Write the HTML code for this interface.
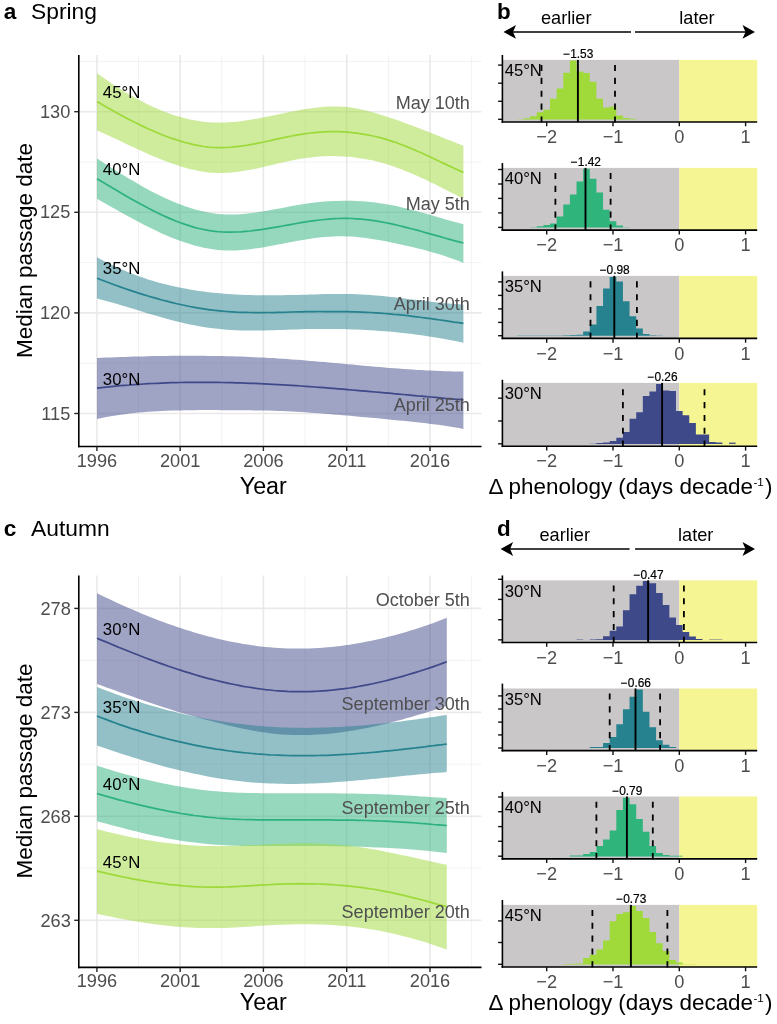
<!DOCTYPE html>
<html><head><meta charset="utf-8"><title>Figure</title>
<style>
html,body{margin:0;padding:0;background:#fff;}
body{width:777px;height:1024px;overflow:hidden;}
svg{display:block;will-change:transform;font-family:"Liberation Sans", sans-serif;}
</style></head><body>
<svg width="777" height="1024" viewBox="0 0 777 1024">
<rect width="777" height="1024" fill="#fff"/>
<line x1="138.5" x2="138.5" y1="54.9" y2="446.5" stroke="#EFEFEF" stroke-width="0.8"/>
<line x1="221.8" x2="221.8" y1="54.9" y2="446.5" stroke="#EFEFEF" stroke-width="0.8"/>
<line x1="305.0" x2="305.0" y1="54.9" y2="446.5" stroke="#EFEFEF" stroke-width="0.8"/>
<line x1="388.4" x2="388.4" y1="54.9" y2="446.5" stroke="#EFEFEF" stroke-width="0.8"/>
<line x1="471.6" x2="471.6" y1="54.9" y2="446.5" stroke="#EFEFEF" stroke-width="0.8"/>
<line x1="78.8" x2="481.5" y1="61.4" y2="61.4" stroke="#EFEFEF" stroke-width="0.8"/>
<line x1="78.8" x2="481.5" y1="162" y2="162" stroke="#EFEFEF" stroke-width="0.8"/>
<line x1="78.8" x2="481.5" y1="262.6" y2="262.6" stroke="#EFEFEF" stroke-width="0.8"/>
<line x1="78.8" x2="481.5" y1="363.2" y2="363.2" stroke="#EFEFEF" stroke-width="0.8"/>
<line x1="96.9" x2="96.9" y1="54.9" y2="446.5" stroke="#E9E9E9" stroke-width="1.6"/>
<line x1="180.15" x2="180.15" y1="54.9" y2="446.5" stroke="#E9E9E9" stroke-width="1.6"/>
<line x1="263.4" x2="263.4" y1="54.9" y2="446.5" stroke="#E9E9E9" stroke-width="1.6"/>
<line x1="346.7" x2="346.7" y1="54.9" y2="446.5" stroke="#E9E9E9" stroke-width="1.6"/>
<line x1="430.0" x2="430.0" y1="54.9" y2="446.5" stroke="#E9E9E9" stroke-width="1.6"/>
<line x1="78.8" x2="481.5" y1="111.7" y2="111.7" stroke="#E9E9E9" stroke-width="1.6"/>
<line x1="78.8" x2="481.5" y1="212.3" y2="212.3" stroke="#E9E9E9" stroke-width="1.6"/>
<line x1="78.8" x2="481.5" y1="312.9" y2="312.9" stroke="#E9E9E9" stroke-width="1.6"/>
<line x1="78.8" x2="481.5" y1="413.5" y2="413.5" stroke="#E9E9E9" stroke-width="1.6"/>
<path d="M97.0,358.0 L101.6,357.8 L106.3,357.6 L110.9,357.4 L115.6,357.3 L120.2,357.1 L124.8,356.9 L129.5,356.8 L134.1,356.6 L138.7,356.5 L143.4,356.4 L148.0,356.2 L152.7,356.1 L157.3,356.0 L161.9,356.0 L166.6,355.9 L171.2,355.8 L175.8,355.8 L180.5,355.8 L185.1,355.8 L189.8,355.8 L194.4,355.8 L199.0,355.8 L203.7,355.8 L208.3,355.9 L212.9,355.9 L217.6,356.0 L222.2,356.1 L226.9,356.2 L231.5,356.3 L236.1,356.5 L240.8,356.6 L245.4,356.8 L250.1,357.0 L254.7,357.2 L259.3,357.4 L264.0,357.6 L268.6,357.9 L273.2,358.1 L277.9,358.4 L282.5,358.7 L287.2,359.0 L291.8,359.4 L296.4,359.7 L301.1,360.1 L305.7,360.5 L310.3,360.9 L315.0,361.3 L319.6,361.7 L324.3,362.1 L328.9,362.5 L333.5,362.9 L338.2,363.3 L342.8,363.8 L347.5,364.2 L352.1,364.6 L356.7,365.0 L361.4,365.5 L366.0,365.9 L370.6,366.3 L375.3,366.7 L379.9,367.1 L384.6,367.5 L389.2,367.9 L393.8,368.2 L398.5,368.6 L403.1,368.9 L407.7,369.3 L412.4,369.6 L417.0,369.9 L421.7,370.1 L426.3,370.4 L430.9,370.6 L435.6,370.8 L440.2,371.0 L444.8,371.2 L449.5,371.3 L454.1,371.4 L458.8,371.5 L463.4,371.5 L463.4,428.9 L458.8,428.1 L454.1,427.3 L449.5,426.5 L444.8,425.8 L440.2,425.1 L435.6,424.5 L430.9,423.9 L426.3,423.3 L421.7,422.8 L417.0,422.3 L412.4,421.8 L407.7,421.3 L403.1,420.8 L398.5,420.4 L393.8,419.9 L389.2,419.5 L384.6,419.0 L379.9,418.6 L375.3,418.1 L370.6,417.7 L366.0,417.3 L361.4,416.9 L356.7,416.4 L352.1,416.0 L347.5,415.6 L342.8,415.2 L338.2,414.8 L333.5,414.4 L328.9,414.0 L324.3,413.7 L319.6,413.3 L315.0,413.0 L310.3,412.7 L305.7,412.3 L301.1,412.1 L296.4,411.8 L291.8,411.5 L287.2,411.3 L282.5,411.1 L277.9,410.9 L273.2,410.8 L268.6,410.6 L264.0,410.5 L259.3,410.4 L254.7,410.4 L250.1,410.3 L245.4,410.3 L240.8,410.2 L236.1,410.2 L231.5,410.2 L226.9,410.2 L222.2,410.2 L217.6,410.1 L212.9,410.1 L208.3,410.1 L203.7,410.1 L199.0,410.1 L194.4,410.2 L189.8,410.2 L185.1,410.3 L180.5,410.4 L175.8,410.5 L171.2,410.6 L166.6,410.8 L161.9,411.0 L157.3,411.2 L152.7,411.5 L148.0,411.8 L143.4,412.2 L138.7,412.6 L134.1,413.1 L129.5,413.6 L124.8,414.2 L120.2,414.8 L115.6,415.5 L110.9,416.3 L106.3,417.1 L101.6,418.0 L97.0,419.0 Z" fill="#3F4889" fill-opacity="0.5"/>
<path d="M97.0,257.3 L101.6,259.8 L106.3,262.2 L110.9,264.5 L115.6,266.7 L120.2,268.8 L124.8,270.8 L129.5,272.7 L134.1,274.5 L138.7,276.2 L143.4,277.8 L148.0,279.4 L152.7,280.8 L157.3,282.2 L161.9,283.4 L166.6,284.6 L171.2,285.7 L175.8,286.8 L180.5,287.8 L185.1,288.6 L189.8,289.5 L194.4,290.2 L199.0,290.9 L203.7,291.6 L208.3,292.2 L212.9,292.7 L217.6,293.1 L222.2,293.6 L226.9,293.9 L231.5,294.2 L236.1,294.5 L240.8,294.7 L245.4,294.9 L250.1,295.1 L254.7,295.2 L259.3,295.3 L264.0,295.3 L268.6,295.3 L273.2,295.3 L277.9,295.3 L282.5,295.2 L287.2,295.1 L291.8,295.0 L296.4,294.9 L301.1,294.8 L305.7,294.7 L310.3,294.5 L315.0,294.4 L319.6,294.2 L324.3,294.1 L328.9,294.0 L333.5,293.9 L338.2,293.9 L342.8,293.9 L347.5,294.0 L352.1,294.1 L356.7,294.3 L361.4,294.5 L366.0,294.7 L370.6,295.1 L375.3,295.4 L379.9,295.8 L384.6,296.3 L389.2,296.7 L393.8,297.2 L398.5,297.8 L403.1,298.3 L407.7,298.9 L412.4,299.4 L417.0,300.0 L421.7,300.6 L426.3,301.1 L430.9,301.7 L435.6,302.2 L440.2,302.7 L444.8,303.2 L449.5,303.6 L454.1,304.0 L458.8,304.3 L463.4,304.6 L463.4,342.7 L458.8,341.8 L454.1,340.8 L449.5,339.9 L444.8,339.1 L440.2,338.3 L435.6,337.5 L430.9,336.7 L426.3,336.0 L421.7,335.3 L417.0,334.7 L412.4,334.1 L407.7,333.5 L403.1,333.0 L398.5,332.5 L393.8,332.1 L389.2,331.6 L384.6,331.2 L379.9,330.9 L375.3,330.5 L370.6,330.2 L366.0,330.0 L361.4,329.7 L356.7,329.5 L352.1,329.4 L347.5,329.2 L342.8,329.1 L338.2,329.0 L333.5,328.9 L328.9,328.9 L324.3,328.9 L319.6,328.9 L315.0,329.0 L310.3,329.0 L305.7,329.1 L301.1,329.2 L296.4,329.4 L291.8,329.5 L287.2,329.7 L282.5,329.9 L277.9,330.0 L273.2,330.2 L268.6,330.3 L264.0,330.4 L259.3,330.5 L254.7,330.5 L250.1,330.5 L245.4,330.5 L240.8,330.4 L236.1,330.2 L231.5,330.0 L226.9,329.7 L222.2,329.3 L217.6,328.8 L212.9,328.3 L208.3,327.7 L203.7,327.0 L199.0,326.2 L194.4,325.3 L189.8,324.4 L185.1,323.4 L180.5,322.3 L175.8,321.2 L171.2,320.0 L166.6,318.7 L161.9,317.4 L157.3,316.1 L152.7,314.7 L148.0,313.4 L143.4,311.9 L138.7,310.5 L134.1,309.1 L129.5,307.7 L124.8,306.3 L120.2,304.9 L115.6,303.5 L110.9,302.2 L106.3,300.9 L101.6,299.7 L97.0,298.5 Z" fill="#26828E" fill-opacity="0.5"/>
<path d="M97.0,158.6 L101.6,161.6 L106.3,164.5 L110.9,167.5 L115.6,170.4 L120.2,173.3 L124.8,176.1 L129.5,178.9 L134.1,181.6 L138.7,184.3 L143.4,186.9 L148.0,189.5 L152.7,191.9 L157.3,194.3 L161.9,196.5 L166.6,198.7 L171.2,200.8 L175.8,202.7 L180.5,204.5 L185.1,206.2 L189.8,207.8 L194.4,209.2 L199.0,210.5 L203.7,211.6 L208.3,212.5 L212.9,213.3 L217.6,213.9 L222.2,214.3 L226.9,214.5 L231.5,214.6 L236.1,214.5 L240.8,214.2 L245.4,213.8 L250.1,213.3 L254.7,212.7 L259.3,212.0 L264.0,211.3 L268.6,210.5 L273.2,209.6 L277.9,208.7 L282.5,207.9 L287.2,207.0 L291.8,206.1 L296.4,205.3 L301.1,204.5 L305.7,203.8 L310.3,203.1 L315.0,202.5 L319.6,202.0 L324.3,201.6 L328.9,201.3 L333.5,201.0 L338.2,200.9 L342.8,200.8 L347.5,200.8 L352.1,200.8 L356.7,201.0 L361.4,201.3 L366.0,201.6 L370.6,202.1 L375.3,202.6 L379.9,203.2 L384.6,203.9 L389.2,204.7 L393.8,205.6 L398.5,206.6 L403.1,207.7 L407.7,208.8 L412.4,210.0 L417.0,211.2 L421.7,212.5 L426.3,213.8 L430.9,215.1 L435.6,216.5 L440.2,217.8 L444.8,219.2 L449.5,220.5 L454.1,221.8 L458.8,223.1 L463.4,224.3 L463.4,262.9 L458.8,261.1 L454.1,259.3 L449.5,257.7 L444.8,256.1 L440.2,254.6 L435.6,253.2 L430.9,251.9 L426.3,250.6 L421.7,249.3 L417.0,248.2 L412.4,247.0 L407.7,246.0 L403.1,244.9 L398.5,243.9 L393.8,243.0 L389.2,242.0 L384.6,241.1 L379.9,240.3 L375.3,239.5 L370.6,238.7 L366.0,238.1 L361.4,237.5 L356.7,237.0 L352.1,236.6 L347.5,236.4 L342.8,236.2 L338.2,236.3 L333.5,236.4 L328.9,236.7 L324.3,237.0 L319.6,237.5 L315.0,238.0 L310.3,238.7 L305.7,239.4 L301.1,240.2 L296.4,241.0 L291.8,241.9 L287.2,242.8 L282.5,243.7 L277.9,244.6 L273.2,245.5 L268.6,246.3 L264.0,247.2 L259.3,247.9 L254.7,248.6 L250.1,249.2 L245.4,249.7 L240.8,250.1 L236.1,250.4 L231.5,250.5 L226.9,250.5 L222.2,250.3 L217.6,249.9 L212.9,249.3 L208.3,248.6 L203.7,247.7 L199.0,246.6 L194.4,245.4 L189.8,244.1 L185.1,242.6 L180.5,241.0 L175.8,239.3 L171.2,237.4 L166.6,235.5 L161.9,233.4 L157.3,231.3 L152.7,229.1 L148.0,226.8 L143.4,224.4 L138.7,222.0 L134.1,219.6 L129.5,217.0 L124.8,214.5 L120.2,211.9 L115.6,209.3 L110.9,206.7 L106.3,204.0 L101.6,201.4 L97.0,198.8 Z" fill="#2DB27D" fill-opacity="0.5"/>
<path d="M97.0,73.2 L101.6,76.6 L106.3,79.8 L110.9,83.0 L115.6,86.0 L120.2,89.0 L124.8,91.9 L129.5,94.6 L134.1,97.3 L138.7,99.8 L143.4,102.2 L148.0,104.6 L152.7,106.7 L157.3,108.8 L161.9,110.7 L166.6,112.5 L171.2,114.2 L175.8,115.7 L180.5,117.1 L185.1,118.3 L189.8,119.4 L194.4,120.3 L199.0,121.1 L203.7,121.7 L208.3,122.2 L212.9,122.5 L217.6,122.6 L222.2,122.6 L226.9,122.4 L231.5,122.1 L236.1,121.7 L240.8,121.2 L245.4,120.5 L250.1,119.8 L254.7,119.0 L259.3,118.2 L264.0,117.3 L268.6,116.3 L273.2,115.4 L277.9,114.4 L282.5,113.4 L287.2,112.5 L291.8,111.6 L296.4,110.7 L301.1,109.8 L305.7,109.1 L310.3,108.4 L315.0,107.8 L319.6,107.2 L324.3,106.8 L328.9,106.6 L333.5,106.5 L338.2,106.5 L342.8,106.7 L347.5,107.1 L352.1,107.7 L356.7,108.5 L361.4,109.4 L366.0,110.5 L370.6,111.7 L375.3,113.0 L379.9,114.4 L384.6,115.9 L389.2,117.4 L393.8,119.0 L398.5,120.6 L403.1,122.3 L407.7,124.0 L412.4,125.7 L417.0,127.4 L421.7,129.2 L426.3,131.0 L430.9,132.8 L435.6,134.7 L440.2,136.5 L444.8,138.4 L449.5,140.2 L454.1,142.1 L458.8,143.9 L463.4,145.8 L463.4,198.8 L458.8,196.4 L454.1,194.0 L449.5,191.7 L444.8,189.3 L440.2,186.9 L435.6,184.6 L430.9,182.4 L426.3,180.1 L421.7,178.0 L417.0,175.8 L412.4,173.8 L407.7,171.9 L403.1,170.0 L398.5,168.2 L393.8,166.6 L389.2,165.0 L384.6,163.6 L379.9,162.3 L375.3,161.1 L370.6,160.1 L366.0,159.2 L361.4,158.4 L356.7,157.7 L352.1,157.1 L347.5,156.7 L342.8,156.4 L338.2,156.2 L333.5,156.1 L328.9,156.1 L324.3,156.3 L319.6,156.6 L315.0,157.0 L310.3,157.5 L305.7,158.1 L301.1,158.8 L296.4,159.6 L291.8,160.6 L287.2,161.5 L282.5,162.6 L277.9,163.6 L273.2,164.7 L268.6,165.8 L264.0,166.8 L259.3,167.9 L254.7,168.9 L250.1,169.8 L245.4,170.6 L240.8,171.3 L236.1,172.0 L231.5,172.5 L226.9,172.8 L222.2,173.0 L217.6,173.0 L212.9,172.8 L208.3,172.4 L203.7,171.8 L199.0,171.0 L194.4,170.0 L189.8,168.9 L185.1,167.7 L180.5,166.3 L175.8,164.8 L171.2,163.2 L166.6,161.5 L161.9,159.7 L157.3,157.8 L152.7,155.9 L148.0,153.9 L143.4,151.8 L138.7,149.7 L134.1,147.5 L129.5,145.4 L124.8,143.2 L120.2,141.0 L115.6,138.8 L110.9,136.7 L106.3,134.5 L101.6,132.4 L97.0,130.3 Z" fill="#9ED93A" fill-opacity="0.5"/>
<path d="M97.0,388.1 L101.6,387.6 L106.3,387.1 L110.9,386.6 L115.6,386.1 L120.2,385.7 L124.8,385.3 L129.5,385.0 L134.1,384.6 L138.7,384.3 L143.4,384.0 L148.0,383.7 L152.7,383.5 L157.3,383.3 L161.9,383.1 L166.6,382.9 L171.2,382.7 L175.8,382.6 L180.5,382.5 L185.1,382.4 L189.8,382.4 L194.4,382.3 L199.0,382.3 L203.7,382.3 L208.3,382.3 L212.9,382.4 L217.6,382.4 L222.2,382.5 L226.9,382.6 L231.5,382.7 L236.1,382.8 L240.8,382.9 L245.4,383.1 L250.1,383.3 L254.7,383.4 L259.3,383.6 L264.0,383.9 L268.6,384.1 L273.2,384.3 L277.9,384.6 L282.5,384.8 L287.2,385.1 L291.8,385.4 L296.4,385.7 L301.1,386.0 L305.7,386.3 L310.3,386.7 L315.0,387.0 L319.6,387.3 L324.3,387.7 L328.9,388.1 L333.5,388.4 L338.2,388.8 L342.8,389.2 L347.5,389.6 L352.1,390.0 L356.7,390.4 L361.4,390.8 L366.0,391.2 L370.6,391.6 L375.3,392.0 L379.9,392.4 L384.6,392.8 L389.2,393.2 L393.8,393.7 L398.5,394.1 L403.1,394.5 L407.7,394.9 L412.4,395.3 L417.0,395.8 L421.7,396.2 L426.3,396.6 L430.9,397.0 L435.6,397.4 L440.2,397.8 L444.8,398.3 L449.5,398.7 L454.1,399.1 L458.8,399.4 L463.4,399.8" fill="none" stroke="#3F4889" stroke-width="1.75"/>
<path d="M97.0,278.2 L101.6,280.0 L106.3,281.8 L110.9,283.5 L115.6,285.2 L120.2,286.9 L124.8,288.5 L129.5,290.1 L134.1,291.6 L138.7,293.2 L143.4,294.6 L148.0,296.0 L152.7,297.4 L157.3,298.7 L161.9,300.0 L166.6,301.2 L171.2,302.4 L175.8,303.5 L180.5,304.5 L185.1,305.5 L189.8,306.5 L194.4,307.3 L199.0,308.1 L203.7,308.9 L208.3,309.6 L212.9,310.2 L217.6,310.7 L222.2,311.1 L226.9,311.5 L231.5,311.8 L236.1,312.1 L240.8,312.3 L245.4,312.4 L250.1,312.5 L254.7,312.6 L259.3,312.6 L264.0,312.6 L268.6,312.5 L273.2,312.5 L277.9,312.4 L282.5,312.3 L287.2,312.2 L291.8,312.0 L296.4,311.9 L301.1,311.8 L305.7,311.7 L310.3,311.6 L315.0,311.6 L319.6,311.5 L324.3,311.5 L328.9,311.5 L333.5,311.5 L338.2,311.5 L342.8,311.6 L347.5,311.7 L352.1,311.8 L356.7,311.9 L361.4,312.1 L366.0,312.3 L370.6,312.5 L375.3,312.8 L379.9,313.1 L384.6,313.5 L389.2,313.8 L393.8,314.3 L398.5,314.7 L403.1,315.2 L407.7,315.7 L412.4,316.3 L417.0,316.9 L421.7,317.5 L426.3,318.1 L430.9,318.7 L435.6,319.4 L440.2,320.0 L444.8,320.7 L449.5,321.4 L454.1,322.1 L458.8,322.7 L463.4,323.4" fill="none" stroke="#26828E" stroke-width="1.75"/>
<path d="M97.0,178.7 L101.6,181.5 L106.3,184.2 L110.9,187.0 L115.6,189.8 L120.2,192.5 L124.8,195.2 L129.5,197.9 L134.1,200.5 L138.7,203.1 L143.4,205.6 L148.0,208.1 L152.7,210.5 L157.3,212.8 L161.9,215.0 L166.6,217.1 L171.2,219.1 L175.8,221.0 L180.5,222.8 L185.1,224.4 L189.8,225.9 L194.4,227.3 L199.0,228.5 L203.7,229.5 L208.3,230.4 L212.9,231.1 L217.6,231.6 L222.2,231.9 L226.9,232.1 L231.5,232.1 L236.1,232.0 L240.8,231.8 L245.4,231.4 L250.1,231.0 L254.7,230.4 L259.3,229.8 L264.0,229.1 L268.6,228.4 L273.2,227.6 L277.9,226.8 L282.5,226.0 L287.2,225.1 L291.8,224.3 L296.4,223.5 L301.1,222.7 L305.7,221.9 L310.3,221.2 L315.0,220.6 L319.6,220.0 L324.3,219.5 L328.9,219.1 L333.5,218.7 L338.2,218.5 L342.8,218.4 L347.5,218.4 L352.1,218.5 L356.7,218.8 L361.4,219.1 L366.0,219.6 L370.6,220.2 L375.3,220.9 L379.9,221.6 L384.6,222.5 L389.2,223.4 L393.8,224.4 L398.5,225.5 L403.1,226.6 L407.7,227.8 L412.4,229.0 L417.0,230.2 L421.7,231.5 L426.3,232.8 L430.9,234.1 L435.6,235.4 L440.2,236.7 L444.8,238.0 L449.5,239.3 L454.1,240.6 L458.8,241.8 L463.4,243.0" fill="none" stroke="#2DB27D" stroke-width="1.75"/>
<path d="M97.0,101.5 L101.6,104.2 L106.3,106.9 L110.9,109.6 L115.6,112.2 L120.2,114.7 L124.8,117.2 L129.5,119.7 L134.1,122.0 L138.7,124.3 L143.4,126.6 L148.0,128.7 L152.7,130.8 L157.3,132.8 L161.9,134.7 L166.6,136.5 L171.2,138.2 L175.8,139.7 L180.5,141.2 L185.1,142.5 L189.8,143.7 L194.4,144.8 L199.0,145.7 L203.7,146.5 L208.3,147.1 L212.9,147.5 L217.6,147.7 L222.2,147.7 L226.9,147.5 L231.5,147.2 L236.1,146.7 L240.8,146.2 L245.4,145.5 L250.1,144.7 L254.7,143.8 L259.3,142.9 L264.0,142.0 L268.6,141.0 L273.2,139.9 L277.9,138.9 L282.5,137.9 L287.2,136.9 L291.8,136.0 L296.4,135.1 L301.1,134.3 L305.7,133.6 L310.3,133.0 L315.0,132.6 L319.6,132.2 L324.3,131.9 L328.9,131.7 L333.5,131.7 L338.2,131.7 L342.8,131.9 L347.5,132.2 L352.1,132.6 L356.7,133.2 L361.4,133.8 L366.0,134.6 L370.6,135.5 L375.3,136.5 L379.9,137.6 L384.6,138.9 L389.2,140.3 L393.8,141.8 L398.5,143.5 L403.1,145.2 L407.7,147.1 L412.4,149.0 L417.0,151.0 L421.7,153.0 L426.3,155.2 L430.9,157.3 L435.6,159.5 L440.2,161.7 L444.8,163.9 L449.5,166.1 L454.1,168.2 L458.8,170.4 L463.4,172.5" fill="none" stroke="#9ED93A" stroke-width="1.75"/>
<text x="102.8" y="97.5" font-size="16.8" fill="#000">45°N</text>
<text x="102.8" y="175" font-size="16.8" fill="#000">40°N</text>
<text x="102.8" y="273.7" font-size="16.8" fill="#000">35°N</text>
<text x="102.8" y="384.5" font-size="16.8" fill="#000">30°N</text>
<text x="469.9" y="109.0" text-anchor="end" font-size="18.05" fill="#4F4F4F">May 10th</text>
<text x="469.9" y="209.6" text-anchor="end" font-size="18.05" fill="#4F4F4F">May 5th</text>
<text x="469.9" y="310.2" text-anchor="end" font-size="18.05" fill="#4F4F4F">April 30th</text>
<text x="469.9" y="410.8" text-anchor="end" font-size="18.05" fill="#4F4F4F">April 25th</text>
<line x1="78.8" x2="78.8" y1="54.9" y2="447.3" stroke="#000" stroke-width="1.6"/>
<line x1="78.0" x2="481.5" y1="446.5" y2="446.5" stroke="#000" stroke-width="1.6"/>
<line x1="74.3" x2="78.8" y1="111.7" y2="111.7" stroke="#222" stroke-width="1.4"/>
<text x="70.3" y="117.7" text-anchor="end" font-size="18.2" fill="#4D4D4D">130</text>
<line x1="74.3" x2="78.8" y1="212.3" y2="212.3" stroke="#222" stroke-width="1.4"/>
<text x="70.3" y="218.3" text-anchor="end" font-size="18.2" fill="#4D4D4D">125</text>
<line x1="74.3" x2="78.8" y1="312.9" y2="312.9" stroke="#222" stroke-width="1.4"/>
<text x="70.3" y="318.9" text-anchor="end" font-size="18.2" fill="#4D4D4D">120</text>
<line x1="74.3" x2="78.8" y1="413.5" y2="413.5" stroke="#222" stroke-width="1.4"/>
<text x="70.3" y="419.5" text-anchor="end" font-size="18.2" fill="#4D4D4D">115</text>
<line x1="96.9" x2="96.9" y1="446.5" y2="451.0" stroke="#222" stroke-width="1.4"/>
<text x="96.9" y="467" text-anchor="middle" font-size="18.2" fill="#4D4D4D">1996</text>
<line x1="180.15" x2="180.15" y1="446.5" y2="451.0" stroke="#222" stroke-width="1.4"/>
<text x="180.15" y="467" text-anchor="middle" font-size="18.2" fill="#4D4D4D">2001</text>
<line x1="263.4" x2="263.4" y1="446.5" y2="451.0" stroke="#222" stroke-width="1.4"/>
<text x="263.4" y="467" text-anchor="middle" font-size="18.2" fill="#4D4D4D">2006</text>
<line x1="346.7" x2="346.7" y1="446.5" y2="451.0" stroke="#222" stroke-width="1.4"/>
<text x="346.7" y="467" text-anchor="middle" font-size="18.2" fill="#4D4D4D">2011</text>
<line x1="430.0" x2="430.0" y1="446.5" y2="451.0" stroke="#222" stroke-width="1.4"/>
<text x="430.0" y="467" text-anchor="middle" font-size="18.2" fill="#4D4D4D">2016</text>
<text x="263.3" y="494.1" text-anchor="middle" font-size="23.3" fill="#000">Year</text>
<text transform="translate(31.6,250.5) rotate(-90)" text-anchor="middle" font-size="22.5" fill="#000">Median passage date</text>
<text x="3.7" y="19.4" font-size="22.6" font-weight="bold" fill="#000">a</text>
<text x="31" y="19.4" font-size="22.8" fill="#000">Spring</text>
<line x1="138.5" x2="138.5" y1="575.4" y2="967.4" stroke="#EFEFEF" stroke-width="0.8"/>
<line x1="221.8" x2="221.8" y1="575.4" y2="967.4" stroke="#EFEFEF" stroke-width="0.8"/>
<line x1="305.0" x2="305.0" y1="575.4" y2="967.4" stroke="#EFEFEF" stroke-width="0.8"/>
<line x1="388.4" x2="388.4" y1="575.4" y2="967.4" stroke="#EFEFEF" stroke-width="0.8"/>
<line x1="471.6" x2="471.6" y1="575.4" y2="967.4" stroke="#EFEFEF" stroke-width="0.8"/>
<line x1="78.8" x2="481.5" y1="660.4" y2="660.4" stroke="#EFEFEF" stroke-width="0.8"/>
<line x1="78.8" x2="481.5" y1="764.2" y2="764.2" stroke="#EFEFEF" stroke-width="0.8"/>
<line x1="78.8" x2="481.5" y1="868.1" y2="868.1" stroke="#EFEFEF" stroke-width="0.8"/>
<line x1="96.9" x2="96.9" y1="575.4" y2="967.4" stroke="#E9E9E9" stroke-width="1.6"/>
<line x1="180.15" x2="180.15" y1="575.4" y2="967.4" stroke="#E9E9E9" stroke-width="1.6"/>
<line x1="263.4" x2="263.4" y1="575.4" y2="967.4" stroke="#E9E9E9" stroke-width="1.6"/>
<line x1="346.7" x2="346.7" y1="575.4" y2="967.4" stroke="#E9E9E9" stroke-width="1.6"/>
<line x1="430.0" x2="430.0" y1="575.4" y2="967.4" stroke="#E9E9E9" stroke-width="1.6"/>
<line x1="78.8" x2="481.5" y1="608.4" y2="608.4" stroke="#E9E9E9" stroke-width="1.6"/>
<line x1="78.8" x2="481.5" y1="712.4" y2="712.4" stroke="#E9E9E9" stroke-width="1.6"/>
<line x1="78.8" x2="481.5" y1="816.3" y2="816.3" stroke="#E9E9E9" stroke-width="1.6"/>
<line x1="78.8" x2="481.5" y1="920.3" y2="920.3" stroke="#E9E9E9" stroke-width="1.6"/>
<path d="M97.0,593.2 L101.4,595.4 L105.9,597.5 L110.3,599.6 L114.7,601.7 L119.1,603.7 L123.6,605.7 L128.0,607.7 L132.4,609.6 L136.9,611.5 L141.3,613.4 L145.7,615.2 L150.1,617.0 L154.6,618.7 L159.0,620.4 L163.4,622.1 L167.8,623.7 L172.3,625.2 L176.7,626.8 L181.1,628.3 L185.6,629.7 L190.0,631.1 L194.4,632.4 L198.8,633.7 L203.3,635.0 L207.7,636.2 L212.1,637.3 L216.6,638.4 L221.0,639.4 L225.4,640.4 L229.8,641.4 L234.3,642.3 L238.7,643.1 L243.1,643.9 L247.5,644.6 L252.0,645.3 L256.4,645.9 L260.8,646.4 L265.3,646.9 L269.7,647.3 L274.1,647.7 L278.5,648.0 L283.0,648.2 L287.4,648.4 L291.8,648.5 L296.3,648.6 L300.7,648.6 L305.1,648.5 L309.5,648.4 L314.0,648.2 L318.4,648.0 L322.8,647.7 L327.2,647.3 L331.7,646.9 L336.1,646.4 L340.5,645.9 L345.0,645.3 L349.4,644.7 L353.8,644.0 L358.2,643.3 L362.7,642.5 L367.1,641.6 L371.5,640.7 L376.0,639.7 L380.4,638.7 L384.8,637.7 L389.2,636.6 L393.7,635.4 L398.1,634.2 L402.5,633.0 L406.9,631.7 L411.4,630.3 L415.8,628.9 L420.2,627.5 L424.7,626.0 L429.1,624.4 L433.5,622.9 L437.9,621.2 L442.4,619.6 L446.8,617.8 L446.8,705.9 L442.4,707.3 L437.9,708.8 L433.5,710.2 L429.1,711.6 L424.7,712.9 L420.2,714.3 L415.8,715.6 L411.4,716.9 L406.9,718.1 L402.5,719.4 L398.1,720.6 L393.7,721.7 L389.2,722.9 L384.8,723.9 L380.4,725.0 L376.0,726.0 L371.5,727.0 L367.1,727.9 L362.7,728.8 L358.2,729.6 L353.8,730.4 L349.4,731.1 L345.0,731.7 L340.5,732.4 L336.1,732.9 L331.7,733.4 L327.2,733.9 L322.8,734.2 L318.4,734.5 L314.0,734.8 L309.5,735.0 L305.1,735.1 L300.7,735.1 L296.3,735.1 L291.8,735.0 L287.4,734.8 L283.0,734.5 L278.5,734.2 L274.1,733.7 L269.7,733.2 L265.3,732.6 L260.8,732.0 L256.4,731.3 L252.0,730.5 L247.5,729.6 L243.1,728.7 L238.7,727.8 L234.3,726.8 L229.8,725.7 L225.4,724.7 L221.0,723.6 L216.6,722.5 L212.1,721.3 L207.7,720.2 L203.3,719.0 L198.8,717.8 L194.4,716.6 L190.0,715.3 L185.6,714.1 L181.1,712.7 L176.7,711.4 L172.3,710.0 L167.8,708.6 L163.4,707.2 L159.0,705.8 L154.6,704.3 L150.1,702.8 L145.7,701.3 L141.3,699.7 L136.9,698.2 L132.4,696.6 L128.0,695.1 L123.6,693.5 L119.1,691.9 L114.7,690.3 L110.3,688.8 L105.9,687.2 L101.4,685.6 L97.0,684.0 Z" fill="#3F4889" fill-opacity="0.5"/>
<path d="M97.0,687.1 L101.4,688.8 L105.9,690.5 L110.3,692.1 L114.7,693.7 L119.1,695.3 L123.6,696.9 L128.0,698.4 L132.4,699.8 L136.9,701.3 L141.3,702.6 L145.7,704.0 L150.1,705.3 L154.6,706.6 L159.0,707.8 L163.4,709.0 L167.8,710.2 L172.3,711.3 L176.7,712.4 L181.1,713.5 L185.6,714.5 L190.0,715.5 L194.4,716.4 L198.8,717.3 L203.3,718.2 L207.7,719.0 L212.1,719.8 L216.6,720.6 L221.0,721.3 L225.4,722.0 L229.8,722.6 L234.3,723.2 L238.7,723.8 L243.1,724.3 L247.5,724.8 L252.0,725.3 L256.4,725.7 L260.8,726.1 L265.3,726.4 L269.7,726.7 L274.1,727.0 L278.5,727.2 L283.0,727.4 L287.4,727.6 L291.8,727.7 L296.3,727.8 L300.7,727.8 L305.1,727.9 L309.5,727.8 L314.0,727.8 L318.4,727.7 L322.8,727.6 L327.2,727.5 L331.7,727.3 L336.1,727.1 L340.5,726.9 L345.0,726.6 L349.4,726.3 L353.8,726.0 L358.2,725.7 L362.7,725.4 L367.1,725.0 L371.5,724.6 L376.0,724.1 L380.4,723.7 L384.8,723.2 L389.2,722.7 L393.7,722.2 L398.1,721.7 L402.5,721.2 L406.9,720.6 L411.4,720.0 L415.8,719.4 L420.2,718.8 L424.7,718.2 L429.1,717.6 L433.5,716.9 L437.9,716.2 L442.4,715.6 L446.8,714.9 L446.8,772.1 L442.4,772.4 L437.9,772.8 L433.5,773.1 L429.1,773.5 L424.7,773.9 L420.2,774.3 L415.8,774.7 L411.4,775.2 L406.9,775.6 L402.5,776.0 L398.1,776.5 L393.7,776.9 L389.2,777.4 L384.8,777.8 L380.4,778.2 L376.0,778.7 L371.5,779.1 L367.1,779.5 L362.7,779.9 L358.2,780.3 L353.8,780.7 L349.4,781.1 L345.0,781.5 L340.5,781.8 L336.1,782.1 L331.7,782.4 L327.2,782.7 L322.8,782.9 L318.4,783.2 L314.0,783.4 L309.5,783.5 L305.1,783.7 L300.7,783.8 L296.3,783.9 L291.8,783.9 L287.4,783.9 L283.0,783.8 L278.5,783.8 L274.1,783.6 L269.7,783.5 L265.3,783.3 L260.8,783.0 L256.4,782.7 L252.0,782.4 L247.5,782.0 L243.1,781.5 L238.7,781.1 L234.3,780.5 L229.8,780.0 L225.4,779.3 L221.0,778.7 L216.6,778.0 L212.1,777.2 L207.7,776.4 L203.3,775.5 L198.8,774.6 L194.4,773.7 L190.0,772.7 L185.6,771.7 L181.1,770.7 L176.7,769.6 L172.3,768.5 L167.8,767.4 L163.4,766.2 L159.0,765.0 L154.6,763.8 L150.1,762.5 L145.7,761.2 L141.3,759.9 L136.9,758.6 L132.4,757.2 L128.0,755.8 L123.6,754.4 L119.1,753.0 L114.7,751.5 L110.3,750.1 L105.9,748.6 L101.4,747.0 L97.0,745.5 Z" fill="#26828E" fill-opacity="0.5"/>
<path d="M97.0,765.7 L101.4,767.1 L105.9,768.5 L110.3,769.8 L114.7,771.2 L119.1,772.5 L123.6,773.7 L128.0,774.9 L132.4,776.1 L136.9,777.3 L141.3,778.4 L145.7,779.5 L150.1,780.5 L154.6,781.5 L159.0,782.5 L163.4,783.4 L167.8,784.3 L172.3,785.2 L176.7,786.0 L181.1,786.8 L185.6,787.5 L190.0,788.2 L194.4,788.8 L198.8,789.4 L203.3,790.0 L207.7,790.5 L212.1,790.9 L216.6,791.3 L221.0,791.7 L225.4,792.0 L229.8,792.3 L234.3,792.5 L238.7,792.7 L243.1,792.8 L247.5,793.0 L252.0,793.1 L256.4,793.1 L260.8,793.2 L265.3,793.2 L269.7,793.2 L274.1,793.2 L278.5,793.2 L283.0,793.2 L287.4,793.2 L291.8,793.2 L296.3,793.2 L300.7,793.2 L305.1,793.2 L309.5,793.2 L314.0,793.2 L318.4,793.2 L322.8,793.3 L327.2,793.3 L331.7,793.3 L336.1,793.3 L340.5,793.4 L345.0,793.4 L349.4,793.5 L353.8,793.6 L358.2,793.7 L362.7,793.8 L367.1,793.9 L371.5,794.0 L376.0,794.1 L380.4,794.3 L384.8,794.5 L389.2,794.6 L393.7,794.8 L398.1,795.1 L402.5,795.3 L406.9,795.6 L411.4,795.8 L415.8,796.1 L420.2,796.4 L424.7,796.6 L429.1,796.9 L433.5,797.2 L437.9,797.5 L442.4,797.8 L446.8,798.1 L446.8,852.9 L442.4,852.4 L437.9,851.9 L433.5,851.5 L429.1,851.0 L424.7,850.6 L420.2,850.2 L415.8,849.8 L411.4,849.5 L406.9,849.1 L402.5,848.8 L398.1,848.5 L393.7,848.3 L389.2,848.0 L384.8,847.8 L380.4,847.6 L376.0,847.4 L371.5,847.2 L367.1,847.0 L362.7,846.8 L358.2,846.7 L353.8,846.6 L349.4,846.5 L345.0,846.4 L340.5,846.3 L336.1,846.2 L331.7,846.2 L327.2,846.1 L322.8,846.1 L318.4,846.0 L314.0,846.0 L309.5,846.0 L305.1,846.0 L300.7,846.0 L296.3,846.0 L291.8,846.0 L287.4,846.0 L283.0,846.0 L278.5,846.0 L274.1,846.0 L269.7,846.1 L265.3,846.1 L260.8,846.1 L256.4,846.1 L252.0,846.0 L247.5,846.0 L243.1,845.9 L238.7,845.8 L234.3,845.7 L229.8,845.5 L225.4,845.3 L221.0,845.1 L216.6,844.8 L212.1,844.4 L207.7,844.0 L203.3,843.6 L198.8,843.1 L194.4,842.6 L190.0,842.0 L185.6,841.4 L181.1,840.7 L176.7,840.0 L172.3,839.2 L167.8,838.4 L163.4,837.5 L159.0,836.6 L154.6,835.7 L150.1,834.7 L145.7,833.7 L141.3,832.7 L136.9,831.6 L132.4,830.5 L128.0,829.4 L123.6,828.3 L119.1,827.1 L114.7,826.0 L110.3,824.8 L105.9,823.6 L101.4,822.5 L97.0,821.3 Z" fill="#2DB27D" fill-opacity="0.5"/>
<path d="M97.0,829.0 L101.4,830.2 L105.9,831.4 L110.3,832.5 L114.7,833.6 L119.1,834.6 L123.6,835.6 L128.0,836.5 L132.4,837.4 L136.9,838.3 L141.3,839.1 L145.7,839.9 L150.1,840.6 L154.6,841.3 L159.0,841.9 L163.4,842.5 L167.8,843.1 L172.3,843.6 L176.7,844.1 L181.1,844.5 L185.6,844.8 L190.0,845.2 L194.4,845.4 L198.8,845.7 L203.3,845.9 L207.7,846.0 L212.1,846.1 L216.6,846.1 L221.0,846.1 L225.4,846.1 L229.8,846.0 L234.3,845.9 L238.7,845.7 L243.1,845.5 L247.5,845.3 L252.0,845.1 L256.4,844.9 L260.8,844.7 L265.3,844.4 L269.7,844.2 L274.1,844.0 L278.5,843.8 L283.0,843.7 L287.4,843.5 L291.8,843.4 L296.3,843.3 L300.7,843.3 L305.1,843.3 L309.5,843.3 L314.0,843.4 L318.4,843.5 L322.8,843.7 L327.2,843.9 L331.7,844.2 L336.1,844.5 L340.5,844.9 L345.0,845.3 L349.4,845.8 L353.8,846.3 L358.2,846.9 L362.7,847.6 L367.1,848.3 L371.5,849.0 L376.0,849.8 L380.4,850.6 L384.8,851.5 L389.2,852.4 L393.7,853.3 L398.1,854.2 L402.5,855.2 L406.9,856.1 L411.4,857.1 L415.8,858.1 L420.2,859.1 L424.7,860.0 L429.1,861.0 L433.5,862.0 L437.9,862.9 L442.4,863.9 L446.8,864.8 L446.8,949.4 L442.4,947.9 L437.9,946.4 L433.5,944.9 L429.1,943.5 L424.7,942.1 L420.2,940.8 L415.8,939.5 L411.4,938.2 L406.9,937.0 L402.5,935.9 L398.1,934.8 L393.7,933.7 L389.2,932.7 L384.8,931.8 L380.4,930.9 L376.0,930.1 L371.5,929.4 L367.1,928.7 L362.7,928.1 L358.2,927.5 L353.8,926.9 L349.4,926.5 L345.0,926.0 L340.5,925.7 L336.1,925.3 L331.7,925.0 L327.2,924.8 L322.8,924.6 L318.4,924.4 L314.0,924.3 L309.5,924.3 L305.1,924.2 L300.7,924.2 L296.3,924.3 L291.8,924.4 L287.4,924.5 L283.0,924.7 L278.5,924.8 L274.1,925.1 L269.7,925.3 L265.3,925.6 L260.8,925.8 L256.4,926.1 L252.0,926.4 L247.5,926.7 L243.1,927.0 L238.7,927.2 L234.3,927.5 L229.8,927.7 L225.4,927.9 L221.0,928.0 L216.6,928.1 L212.1,928.1 L207.7,928.1 L203.3,928.1 L198.8,927.9 L194.4,927.8 L190.0,927.6 L185.6,927.3 L181.1,927.0 L176.7,926.7 L172.3,926.3 L167.8,925.8 L163.4,925.3 L159.0,924.8 L154.6,924.2 L150.1,923.6 L145.7,923.0 L141.3,922.3 L136.9,921.6 L132.4,920.8 L128.0,920.1 L123.6,919.2 L119.1,918.4 L114.7,917.5 L110.3,916.6 L105.9,915.7 L101.4,914.7 L97.0,913.7 Z" fill="#9ED93A" fill-opacity="0.5"/>
<path d="M97.0,638.2 L101.4,640.1 L105.9,641.9 L110.3,643.8 L114.7,645.6 L119.1,647.5 L123.6,649.3 L128.0,651.0 L132.4,652.8 L136.9,654.5 L141.3,656.3 L145.7,658.0 L150.1,659.6 L154.6,661.3 L159.0,662.9 L163.4,664.4 L167.8,666.0 L172.3,667.5 L176.7,669.0 L181.1,670.4 L185.6,671.8 L190.0,673.2 L194.4,674.5 L198.8,675.8 L203.3,677.1 L207.7,678.3 L212.1,679.4 L216.6,680.5 L221.0,681.6 L225.4,682.6 L229.8,683.6 L234.3,684.5 L238.7,685.4 L243.1,686.3 L247.5,687.0 L252.0,687.7 L256.4,688.4 L260.8,689.0 L265.3,689.6 L269.7,690.0 L274.1,690.5 L278.5,690.8 L283.0,691.1 L287.4,691.4 L291.8,691.6 L296.3,691.7 L300.7,691.7 L305.1,691.7 L309.5,691.6 L314.0,691.4 L318.4,691.2 L322.8,690.9 L327.2,690.6 L331.7,690.2 L336.1,689.7 L340.5,689.2 L345.0,688.6 L349.4,688.0 L353.8,687.3 L358.2,686.5 L362.7,685.7 L367.1,684.9 L371.5,684.0 L376.0,683.0 L380.4,682.0 L384.8,681.0 L389.2,679.9 L393.7,678.7 L398.1,677.5 L402.5,676.3 L406.9,675.0 L411.4,673.7 L415.8,672.3 L420.2,671.0 L424.7,669.5 L429.1,668.1 L433.5,666.6 L437.9,665.0 L442.4,663.4 L446.8,661.8" fill="none" stroke="#3F4889" stroke-width="1.75"/>
<path d="M97.0,716.0 L101.4,717.7 L105.9,719.4 L110.3,721.1 L114.7,722.7 L119.1,724.3 L123.6,725.8 L128.0,727.3 L132.4,728.8 L136.9,730.2 L141.3,731.6 L145.7,732.9 L150.1,734.2 L154.6,735.5 L159.0,736.7 L163.4,737.9 L167.8,739.0 L172.3,740.1 L176.7,741.2 L181.1,742.2 L185.6,743.2 L190.0,744.2 L194.4,745.1 L198.8,745.9 L203.3,746.8 L207.7,747.6 L212.1,748.3 L216.6,749.1 L221.0,749.7 L225.4,750.4 L229.8,751.0 L234.3,751.6 L238.7,752.1 L243.1,752.6 L247.5,753.0 L252.0,753.5 L256.4,753.9 L260.8,754.2 L265.3,754.5 L269.7,754.8 L274.1,755.0 L278.5,755.2 L283.0,755.4 L287.4,755.5 L291.8,755.6 L296.3,755.7 L300.7,755.7 L305.1,755.7 L309.5,755.7 L314.0,755.6 L318.4,755.5 L322.8,755.4 L327.2,755.3 L331.7,755.1 L336.1,754.9 L340.5,754.7 L345.0,754.4 L349.4,754.2 L353.8,753.9 L358.2,753.5 L362.7,753.2 L367.1,752.9 L371.5,752.5 L376.0,752.1 L380.4,751.7 L384.8,751.2 L389.2,750.8 L393.7,750.3 L398.1,749.9 L402.5,749.4 L406.9,748.9 L411.4,748.4 L415.8,747.9 L420.2,747.3 L424.7,746.8 L429.1,746.2 L433.5,745.7 L437.9,745.1 L442.4,744.6 L446.8,744.0" fill="none" stroke="#26828E" stroke-width="1.75"/>
<path d="M97.0,793.5 L101.4,794.8 L105.9,796.1 L110.3,797.3 L114.7,798.6 L119.1,799.8 L123.6,801.0 L128.0,802.1 L132.4,803.2 L136.9,804.3 L141.3,805.4 L145.7,806.4 L150.1,807.4 L154.6,808.4 L159.0,809.3 L163.4,810.2 L167.8,811.1 L172.3,811.9 L176.7,812.7 L181.1,813.5 L185.6,814.2 L190.0,814.8 L194.4,815.5 L198.8,816.0 L203.3,816.6 L207.7,817.1 L212.1,817.5 L216.6,818.0 L221.0,818.3 L225.4,818.6 L229.8,818.9 L234.3,819.1 L238.7,819.3 L243.1,819.5 L247.5,819.6 L252.0,819.7 L256.4,819.8 L260.8,819.9 L265.3,819.9 L269.7,819.9 L274.1,819.9 L278.5,819.9 L283.0,819.9 L287.4,819.9 L291.8,819.9 L296.3,819.9 L300.7,819.9 L305.1,819.9 L309.5,819.9 L314.0,819.9 L318.4,819.9 L322.8,819.9 L327.2,819.9 L331.7,819.9 L336.1,820.0 L340.5,820.0 L345.0,820.1 L349.4,820.1 L353.8,820.2 L358.2,820.3 L362.7,820.4 L367.1,820.5 L371.5,820.7 L376.0,820.8 L380.4,821.0 L384.8,821.2 L389.2,821.4 L393.7,821.6 L398.1,821.8 L402.5,822.1 L406.9,822.4 L411.4,822.7 L415.8,823.0 L420.2,823.4 L424.7,823.7 L429.1,824.1 L433.5,824.5 L437.9,824.8 L442.4,825.2 L446.8,825.6" fill="none" stroke="#2DB27D" stroke-width="1.75"/>
<path d="M97.0,871.2 L101.4,872.2 L105.9,873.2 L110.3,874.2 L114.7,875.2 L119.1,876.1 L123.6,877.0 L128.0,877.9 L132.4,878.8 L136.9,879.6 L141.3,880.4 L145.7,881.1 L150.1,881.8 L154.6,882.5 L159.0,883.1 L163.4,883.7 L167.8,884.3 L172.3,884.8 L176.7,885.2 L181.1,885.6 L185.6,886.0 L190.0,886.3 L194.4,886.6 L198.8,886.8 L203.3,887.0 L207.7,887.1 L212.1,887.1 L216.6,887.1 L221.0,887.1 L225.4,887.0 L229.8,886.8 L234.3,886.6 L238.7,886.4 L243.1,886.2 L247.5,885.9 L252.0,885.7 L256.4,885.4 L260.8,885.2 L265.3,884.9 L269.7,884.7 L274.1,884.4 L278.5,884.2 L283.0,884.1 L287.4,883.9 L291.8,883.8 L296.3,883.8 L300.7,883.7 L305.1,883.8 L309.5,883.8 L314.0,883.9 L318.4,884.0 L322.8,884.2 L327.2,884.4 L331.7,884.7 L336.1,885.0 L340.5,885.3 L345.0,885.7 L349.4,886.1 L353.8,886.6 L358.2,887.1 L362.7,887.7 L367.1,888.3 L371.5,889.0 L376.0,889.7 L380.4,890.5 L384.8,891.3 L389.2,892.2 L393.7,893.1 L398.1,894.1 L402.5,895.1 L406.9,896.2 L411.4,897.3 L415.8,898.4 L420.2,899.5 L424.7,900.7 L429.1,901.9 L433.5,903.1 L437.9,904.3 L442.4,905.5 L446.8,906.7" fill="none" stroke="#9ED93A" stroke-width="1.75"/>
<text x="102.8" y="635" font-size="16.8" fill="#000">30°N</text>
<text x="102.8" y="712.5" font-size="16.8" fill="#000">35°N</text>
<text x="102.8" y="789.5" font-size="16.8" fill="#000">40°N</text>
<text x="102.8" y="867.5" font-size="16.8" fill="#000">45°N</text>
<text x="469.9" y="605.7" text-anchor="end" font-size="18.05" fill="#4F4F4F">October 5th</text>
<text x="469.9" y="709.7" text-anchor="end" font-size="18.05" fill="#4F4F4F">September 30th</text>
<text x="469.9" y="813.7" text-anchor="end" font-size="18.05" fill="#4F4F4F">September 25th</text>
<text x="469.9" y="917.7" text-anchor="end" font-size="18.05" fill="#4F4F4F">September 20th</text>
<line x1="78.8" x2="78.8" y1="575.4" y2="968.1999999999999" stroke="#000" stroke-width="1.6"/>
<line x1="78.0" x2="481.5" y1="967.4" y2="967.4" stroke="#000" stroke-width="1.6"/>
<line x1="74.3" x2="78.8" y1="608.4" y2="608.4" stroke="#222" stroke-width="1.4"/>
<text x="70.8" y="615.1" text-anchor="end" font-size="18.2" fill="#4D4D4D">278</text>
<line x1="74.3" x2="78.8" y1="712.4" y2="712.4" stroke="#222" stroke-width="1.4"/>
<text x="70.8" y="719.1" text-anchor="end" font-size="18.2" fill="#4D4D4D">273</text>
<line x1="74.3" x2="78.8" y1="816.3" y2="816.3" stroke="#222" stroke-width="1.4"/>
<text x="70.8" y="823.0" text-anchor="end" font-size="18.2" fill="#4D4D4D">268</text>
<line x1="74.3" x2="78.8" y1="920.3" y2="920.3" stroke="#222" stroke-width="1.4"/>
<text x="70.8" y="927.0" text-anchor="end" font-size="18.2" fill="#4D4D4D">263</text>
<line x1="96.9" x2="96.9" y1="967.4" y2="971.9" stroke="#222" stroke-width="1.4"/>
<text x="96.9" y="987.4" text-anchor="middle" font-size="18.2" fill="#4D4D4D">1996</text>
<line x1="180.15" x2="180.15" y1="967.4" y2="971.9" stroke="#222" stroke-width="1.4"/>
<text x="180.15" y="987.4" text-anchor="middle" font-size="18.2" fill="#4D4D4D">2001</text>
<line x1="263.4" x2="263.4" y1="967.4" y2="971.9" stroke="#222" stroke-width="1.4"/>
<text x="263.4" y="987.4" text-anchor="middle" font-size="18.2" fill="#4D4D4D">2006</text>
<line x1="346.7" x2="346.7" y1="967.4" y2="971.9" stroke="#222" stroke-width="1.4"/>
<text x="346.7" y="987.4" text-anchor="middle" font-size="18.2" fill="#4D4D4D">2011</text>
<line x1="430.0" x2="430.0" y1="967.4" y2="971.9" stroke="#222" stroke-width="1.4"/>
<text x="430.0" y="987.4" text-anchor="middle" font-size="18.2" fill="#4D4D4D">2016</text>
<text x="263.3" y="1010.0" text-anchor="middle" font-size="23.3" fill="#000">Year</text>
<text transform="translate(31.6,771) rotate(-90)" text-anchor="middle" font-size="22.5" fill="#000">Median passage date</text>
<text x="3.7" y="536" font-size="22.6" font-weight="bold" fill="#000">c</text>
<text x="31" y="536" font-size="22.8" fill="#000">Autumn</text>
<rect x="502.4" y="59.9" width="176.89999999999998" height="62.15" fill="#C9C7C8"/>
<rect x="679.3" y="59.9" width="77.90000000000009" height="62.15" fill="#F5F593"/>
<path d="M516.87,119.5 L516.87,119.2 L523.50,119.2 L523.50,118.2 L530.12,118.2 L530.12,116.2 L536.75,116.2 L536.75,112.3 L543.38,112.3 L543.38,109.8 L550.01,109.8 L550.01,98.7 L556.64,98.7 L556.64,88.4 L563.27,88.4 L563.27,72.7 L569.90,72.7 L569.90,60.6 L576.53,60.6 L576.53,71.4 L583.16,71.4 L583.16,72.9 L589.79,72.9 L589.79,81.7 L596.42,81.7 L596.42,98.7 L603.05,98.7 L603.05,107.4 L609.68,107.4 L609.68,106.4 L616.31,106.4 L616.31,115.4 L622.94,115.4 L622.94,118.0 L629.57,118.0 L629.57,118.8 L636.20,118.8 L636.20,119.5 Z" fill="#9FDA3A"/>
<line x1="577.9" x2="577.9" y1="59.9" y2="122.05" stroke="#000" stroke-width="1.9"/>
<line x1="541.5" x2="541.5" y1="122.5" y2="59.9" stroke="#000" stroke-width="1.8" stroke-dasharray="6.1 6.75"/>
<line x1="615.0" x2="615.0" y1="122.5" y2="59.9" stroke="#000" stroke-width="1.8" stroke-dasharray="6.1 6.75"/>
<text x="578.3" y="58.1" text-anchor="middle" font-size="11.9" fill="#000" stroke="#000" stroke-width="0.2">−1.53</text>
<text x="504.7" y="76.3" font-size="16.65" fill="#000">45°N</text>
<line x1="502.4" x2="502.4" y1="54.96" y2="122.85" stroke="#000" stroke-width="1.6"/>
<line x1="501.59999999999997" x2="757.2" y1="122.05" y2="122.05" stroke="#000" stroke-width="1.6"/>
<line x1="498.1" x2="502.4" y1="65.1" y2="65.1" stroke="#111" stroke-width="1.4"/>
<line x1="498.1" x2="502.4" y1="83.2" y2="83.2" stroke="#111" stroke-width="1.4"/>
<line x1="498.1" x2="502.4" y1="101.3" y2="101.3" stroke="#111" stroke-width="1.4"/>
<line x1="498.1" x2="502.4" y1="119.3" y2="119.3" stroke="#111" stroke-width="1.4"/>
<line x1="546.7" x2="546.7" y1="122.05" y2="126.3" stroke="#111" stroke-width="1.4"/>
<text x="546.7" y="143.2" text-anchor="middle" font-size="18.2" fill="#4D4D4D">−2</text>
<line x1="613.0" x2="613.0" y1="122.05" y2="126.3" stroke="#111" stroke-width="1.4"/>
<text x="613.0" y="143.2" text-anchor="middle" font-size="18.2" fill="#4D4D4D">−1</text>
<line x1="679.3" x2="679.3" y1="122.05" y2="126.3" stroke="#111" stroke-width="1.4"/>
<text x="679.3" y="143.2" text-anchor="middle" font-size="18.2" fill="#4D4D4D">0</text>
<line x1="745.6" x2="745.6" y1="122.05" y2="126.3" stroke="#111" stroke-width="1.4"/>
<text x="745.6" y="143.2" text-anchor="middle" font-size="18.2" fill="#4D4D4D">1</text>
<rect x="502.4" y="167.9" width="176.89999999999998" height="62.19999999999999" fill="#C9C7C8"/>
<rect x="679.3" y="167.9" width="77.90000000000009" height="62.19999999999999" fill="#F5F593"/>
<path d="M530.12,227.6 L530.12,227.2 L536.75,227.2 L536.75,226.2 L543.38,226.2 L543.38,224.9 L550.01,224.9 L550.01,223.4 L556.64,223.4 L556.64,216.4 L563.27,216.4 L563.27,204.6 L569.90,204.6 L569.90,194.5 L576.53,194.5 L576.53,181.4 L583.16,181.4 L583.16,168.8 L589.79,168.8 L589.79,178.8 L596.42,178.8 L596.42,192.5 L603.05,192.5 L603.05,209.7 L609.68,209.7 L609.68,221.3 L616.31,221.3 L616.31,225.4 L622.94,225.4 L622.94,227.2 L629.57,227.2 L629.57,227.6 Z" fill="#2FB47C"/>
<line x1="585.5" x2="585.5" y1="167.9" y2="230.1" stroke="#000" stroke-width="1.9"/>
<line x1="555.4" x2="555.4" y1="230.5" y2="167.9" stroke="#000" stroke-width="1.8" stroke-dasharray="6.1 6.75"/>
<line x1="610.6" x2="610.6" y1="230.5" y2="167.9" stroke="#000" stroke-width="1.8" stroke-dasharray="6.1 6.75"/>
<text x="585.9" y="166.1" text-anchor="middle" font-size="11.9" fill="#000" stroke="#000" stroke-width="0.2">−1.42</text>
<text x="504.7" y="184.3" font-size="16.65" fill="#000">40°N</text>
<line x1="502.4" x2="502.4" y1="163.05" y2="230.9" stroke="#000" stroke-width="1.6"/>
<line x1="501.59999999999997" x2="757.2" y1="230.1" y2="230.1" stroke="#000" stroke-width="1.6"/>
<line x1="498.1" x2="502.4" y1="169.5" y2="169.5" stroke="#111" stroke-width="1.4"/>
<line x1="498.1" x2="502.4" y1="184" y2="184" stroke="#111" stroke-width="1.4"/>
<line x1="498.1" x2="502.4" y1="198.4" y2="198.4" stroke="#111" stroke-width="1.4"/>
<line x1="498.1" x2="502.4" y1="212.9" y2="212.9" stroke="#111" stroke-width="1.4"/>
<line x1="498.1" x2="502.4" y1="227.4" y2="227.4" stroke="#111" stroke-width="1.4"/>
<line x1="546.7" x2="546.7" y1="230.1" y2="234.4" stroke="#111" stroke-width="1.4"/>
<text x="546.7" y="251.2" text-anchor="middle" font-size="18.2" fill="#4D4D4D">−2</text>
<line x1="613.0" x2="613.0" y1="230.1" y2="234.4" stroke="#111" stroke-width="1.4"/>
<text x="613.0" y="251.2" text-anchor="middle" font-size="18.2" fill="#4D4D4D">−1</text>
<line x1="679.3" x2="679.3" y1="230.1" y2="234.4" stroke="#111" stroke-width="1.4"/>
<text x="679.3" y="251.2" text-anchor="middle" font-size="18.2" fill="#4D4D4D">0</text>
<line x1="745.6" x2="745.6" y1="230.1" y2="234.4" stroke="#111" stroke-width="1.4"/>
<text x="745.6" y="251.2" text-anchor="middle" font-size="18.2" fill="#4D4D4D">1</text>
<rect x="502.4" y="275.9" width="176.89999999999998" height="62.450000000000045" fill="#C9C7C8"/>
<rect x="679.3" y="275.9" width="77.90000000000009" height="62.450000000000045" fill="#F5F593"/>
<path d="M516.87,335.8 L516.87,335.6 L523.50,335.6 L523.50,335.6 L530.12,335.6 L530.12,335.6 L536.75,335.6 L536.75,335.6 L543.38,335.6 L543.38,335.6 L550.01,335.6 L550.01,335.6 L556.64,335.6 L556.64,335.5 L563.27,335.5 L563.27,335.3 L569.90,335.3 L569.90,335.0 L576.53,335.0 L576.53,334.7 L583.16,334.7 L583.16,331.4 L589.79,331.4 L589.79,324.5 L596.42,324.5 L596.42,306.0 L603.05,306.0 L603.05,288.5 L609.68,288.5 L609.68,276.9 L616.31,276.9 L616.31,281.5 L622.94,281.5 L622.94,301.3 L629.57,301.3 L629.57,316.3 L636.20,316.3 L636.20,328.4 L642.83,328.4 L642.83,334.0 L649.46,334.0 L649.46,335.2 L656.09,335.2 L656.09,335.6 L662.72,335.6 L662.72,335.8 Z" fill="#26828E"/>
<line x1="614.3" x2="614.3" y1="275.9" y2="338.35" stroke="#000" stroke-width="1.9"/>
<line x1="590.5" x2="590.5" y1="338.8" y2="275.9" stroke="#000" stroke-width="1.8" stroke-dasharray="6.1 6.75"/>
<line x1="636.9" x2="636.9" y1="338.8" y2="275.9" stroke="#000" stroke-width="1.8" stroke-dasharray="6.1 6.75"/>
<text x="614.7" y="274.1" text-anchor="middle" font-size="11.9" fill="#000" stroke="#000" stroke-width="0.2">−0.98</text>
<text x="504.7" y="292.3" font-size="16.65" fill="#000">35°N</text>
<line x1="502.4" x2="502.4" y1="271.4" y2="339.15000000000003" stroke="#000" stroke-width="1.6"/>
<line x1="501.59999999999997" x2="757.2" y1="338.35" y2="338.35" stroke="#000" stroke-width="1.6"/>
<line x1="498.1" x2="502.4" y1="281.9" y2="281.9" stroke="#111" stroke-width="1.4"/>
<line x1="498.1" x2="502.4" y1="295.4" y2="295.4" stroke="#111" stroke-width="1.4"/>
<line x1="498.1" x2="502.4" y1="308.9" y2="308.9" stroke="#111" stroke-width="1.4"/>
<line x1="498.1" x2="502.4" y1="322.4" y2="322.4" stroke="#111" stroke-width="1.4"/>
<line x1="498.1" x2="502.4" y1="335.7" y2="335.7" stroke="#111" stroke-width="1.4"/>
<line x1="546.7" x2="546.7" y1="338.35" y2="342.7" stroke="#111" stroke-width="1.4"/>
<text x="546.7" y="359.5" text-anchor="middle" font-size="18.2" fill="#4D4D4D">−2</text>
<line x1="613.0" x2="613.0" y1="338.35" y2="342.7" stroke="#111" stroke-width="1.4"/>
<text x="613.0" y="359.5" text-anchor="middle" font-size="18.2" fill="#4D4D4D">−1</text>
<line x1="679.3" x2="679.3" y1="338.35" y2="342.7" stroke="#111" stroke-width="1.4"/>
<text x="679.3" y="359.5" text-anchor="middle" font-size="18.2" fill="#4D4D4D">0</text>
<line x1="745.6" x2="745.6" y1="338.35" y2="342.7" stroke="#111" stroke-width="1.4"/>
<text x="745.6" y="359.5" text-anchor="middle" font-size="18.2" fill="#4D4D4D">1</text>
<rect x="502.4" y="382.9" width="176.89999999999998" height="63.400000000000034" fill="#C9C7C8"/>
<rect x="679.3" y="382.9" width="77.90000000000009" height="63.400000000000034" fill="#F5F593"/>
<path d="M589.79,443.9 L589.79,443.7 L596.42,443.7 L596.42,443.1 L603.05,443.1 L603.05,442.6 L609.68,442.6 L609.68,441.1 L616.31,441.1 L616.31,437.7 L622.94,437.7 L622.94,432.1 L629.57,432.1 L629.57,418.7 L636.20,418.7 L636.20,412.3 L642.83,412.3 L642.83,396.0 L649.46,396.0 L649.46,391.4 L656.09,391.4 L656.09,383.9 L662.72,383.9 L662.72,390.4 L669.35,390.4 L669.36,390.9 L675.99,390.9 L675.98,411.0 L682.61,411.0 L682.62,415.3 L689.25,415.3 L689.25,423.1 L695.88,423.1 L695.88,434.6 L702.50,434.6 L702.50,434.6 L709.13,434.6 L709.13,441.9 L715.76,441.9 L715.76,442.4 L722.39,442.4 L722.39,443.9 Z" fill="#3E4989"/>
<path d="M729.02,443.9 L729.02,442.6 L735.65,442.6 L735.65,443.9 Z" fill="#3E4989"/>
<line x1="662.1" x2="662.1" y1="382.9" y2="446.3" stroke="#000" stroke-width="1.9"/>
<line x1="622.9" x2="622.9" y1="446.7" y2="382.9" stroke="#000" stroke-width="1.8" stroke-dasharray="6.1 6.75"/>
<line x1="704.5" x2="704.5" y1="446.7" y2="382.9" stroke="#000" stroke-width="1.8" stroke-dasharray="6.1 6.75"/>
<text x="662.5" y="381.1" text-anchor="middle" font-size="11.9" fill="#000" stroke="#000" stroke-width="0.2">−0.26</text>
<text x="504.7" y="399.3" font-size="16.65" fill="#000">30°N</text>
<line x1="502.4" x2="502.4" y1="379.8" y2="447.1" stroke="#000" stroke-width="1.6"/>
<line x1="501.59999999999997" x2="757.2" y1="446.3" y2="446.3" stroke="#000" stroke-width="1.6"/>
<line x1="498.1" x2="502.4" y1="398.2" y2="398.2" stroke="#111" stroke-width="1.4"/>
<line x1="498.1" x2="502.4" y1="421" y2="421" stroke="#111" stroke-width="1.4"/>
<line x1="498.1" x2="502.4" y1="443.8" y2="443.8" stroke="#111" stroke-width="1.4"/>
<line x1="546.7" x2="546.7" y1="446.3" y2="450.6" stroke="#111" stroke-width="1.4"/>
<text x="546.7" y="467.4" text-anchor="middle" font-size="18.2" fill="#4D4D4D">−2</text>
<line x1="613.0" x2="613.0" y1="446.3" y2="450.6" stroke="#111" stroke-width="1.4"/>
<text x="613.0" y="467.4" text-anchor="middle" font-size="18.2" fill="#4D4D4D">−1</text>
<line x1="679.3" x2="679.3" y1="446.3" y2="450.6" stroke="#111" stroke-width="1.4"/>
<text x="679.3" y="467.4" text-anchor="middle" font-size="18.2" fill="#4D4D4D">0</text>
<line x1="745.6" x2="745.6" y1="446.3" y2="450.6" stroke="#111" stroke-width="1.4"/>
<text x="745.6" y="467.4" text-anchor="middle" font-size="18.2" fill="#4D4D4D">1</text>
<rect x="502.4" y="580.35" width="176.89999999999998" height="62.14999999999998" fill="#C9C7C8"/>
<rect x="679.3" y="580.35" width="77.90000000000009" height="62.14999999999998" fill="#F5F593"/>
<path d="M576.53,640.0 L576.53,639.6 L583.16,639.6 L583.16,640.0 Z" fill="#3E4989"/>
<path d="M589.79,640.0 L589.79,639.6 L596.42,639.6 L596.42,639.3 L603.05,639.3 L603.05,636.2 L609.68,636.2 L609.68,630.8 L616.31,630.8 L616.31,626.4 L622.94,626.4 L622.94,610.2 L629.57,610.2 L629.57,594.2 L636.20,594.2 L636.20,585.7 L642.83,585.7 L642.83,581.1 L649.46,581.1 L649.46,583.2 L656.09,583.2 L656.09,592.9 L662.72,592.9 L662.72,605.0 L669.35,605.0 L669.36,617.4 L675.99,617.4 L675.98,625.1 L682.61,625.1 L682.62,632.1 L689.25,632.1 L689.25,636.4 L695.88,636.4 L695.88,639.0 L702.50,639.0 L702.50,640.0 Z" fill="#3E4989"/>
<path d="M709.13,640.0 L709.13,639.6 L715.76,639.6 L715.76,639.6 L722.39,639.6 L722.39,640.0 Z" fill="#3E4989"/>
<line x1="648.1" x2="648.1" y1="580.35" y2="642.5" stroke="#000" stroke-width="1.9"/>
<line x1="613.7" x2="613.7" y1="642.9" y2="580.35" stroke="#000" stroke-width="1.8" stroke-dasharray="6.1 6.75"/>
<line x1="683.9" x2="683.9" y1="642.9" y2="580.35" stroke="#000" stroke-width="1.8" stroke-dasharray="6.1 6.75"/>
<text x="648.5" y="578.6" text-anchor="middle" font-size="11.9" fill="#000" stroke="#000" stroke-width="0.2">−0.47</text>
<text x="504.7" y="596.8" font-size="16.65" fill="#000">30°N</text>
<line x1="502.4" x2="502.4" y1="575.45" y2="643.3" stroke="#000" stroke-width="1.6"/>
<line x1="501.59999999999997" x2="757.2" y1="642.5" y2="642.5" stroke="#000" stroke-width="1.6"/>
<line x1="498.1" x2="502.4" y1="579.3" y2="579.3" stroke="#111" stroke-width="1.4"/>
<line x1="498.1" x2="502.4" y1="599.4" y2="599.4" stroke="#111" stroke-width="1.4"/>
<line x1="498.1" x2="502.4" y1="619.7" y2="619.7" stroke="#111" stroke-width="1.4"/>
<line x1="498.1" x2="502.4" y1="639.85" y2="639.85" stroke="#111" stroke-width="1.4"/>
<line x1="546.7" x2="546.7" y1="642.5" y2="646.8" stroke="#111" stroke-width="1.4"/>
<text x="546.7" y="663.6" text-anchor="middle" font-size="18.2" fill="#4D4D4D">−2</text>
<line x1="613.0" x2="613.0" y1="642.5" y2="646.8" stroke="#111" stroke-width="1.4"/>
<text x="613.0" y="663.6" text-anchor="middle" font-size="18.2" fill="#4D4D4D">−1</text>
<line x1="679.3" x2="679.3" y1="642.5" y2="646.8" stroke="#111" stroke-width="1.4"/>
<text x="679.3" y="663.6" text-anchor="middle" font-size="18.2" fill="#4D4D4D">0</text>
<line x1="745.6" x2="745.6" y1="642.5" y2="646.8" stroke="#111" stroke-width="1.4"/>
<text x="745.6" y="663.6" text-anchor="middle" font-size="18.2" fill="#4D4D4D">1</text>
<rect x="502.4" y="688.5" width="176.89999999999998" height="62.14999999999998" fill="#C9C7C8"/>
<rect x="679.3" y="688.5" width="77.90000000000009" height="62.14999999999998" fill="#F5F593"/>
<path d="M589.79,748.1 L589.79,746.9 L596.42,746.9 L596.42,746.9 L603.05,746.9 L603.05,743.0 L609.68,743.0 L609.68,737.1 L616.31,737.1 L616.31,724.2 L622.94,724.2 L622.94,709.3 L629.57,709.3 L629.57,696.7 L636.20,696.7 L636.20,689.5 L642.83,689.5 L642.83,711.8 L649.46,711.8 L649.46,727.3 L656.09,727.3 L656.09,740.2 L662.72,740.2 L662.72,744.8 L669.35,744.8 L669.36,746.9 L675.99,746.9 L675.99,748.1 Z" fill="#26828E"/>
<line x1="635.5" x2="635.5" y1="688.5" y2="750.65" stroke="#000" stroke-width="1.9"/>
<line x1="609.7" x2="609.7" y1="751.0" y2="688.5" stroke="#000" stroke-width="1.8" stroke-dasharray="6.1 6.75"/>
<line x1="660.1" x2="660.1" y1="751.0" y2="688.5" stroke="#000" stroke-width="1.8" stroke-dasharray="6.1 6.75"/>
<text x="635.9" y="686.7" text-anchor="middle" font-size="11.9" fill="#000" stroke="#000" stroke-width="0.2">−0.66</text>
<text x="504.7" y="704.9" font-size="16.65" fill="#000">35°N</text>
<line x1="502.4" x2="502.4" y1="683.6" y2="751.4499999999999" stroke="#000" stroke-width="1.6"/>
<line x1="501.59999999999997" x2="757.2" y1="750.65" y2="750.65" stroke="#000" stroke-width="1.6"/>
<line x1="498.1" x2="502.4" y1="695.9" y2="695.9" stroke="#111" stroke-width="1.4"/>
<line x1="498.1" x2="502.4" y1="709" y2="709" stroke="#111" stroke-width="1.4"/>
<line x1="498.1" x2="502.4" y1="722.1" y2="722.1" stroke="#111" stroke-width="1.4"/>
<line x1="498.1" x2="502.4" y1="734.9" y2="734.9" stroke="#111" stroke-width="1.4"/>
<line x1="498.1" x2="502.4" y1="748.0" y2="748.0" stroke="#111" stroke-width="1.4"/>
<line x1="546.7" x2="546.7" y1="750.65" y2="754.9" stroke="#111" stroke-width="1.4"/>
<text x="546.7" y="771.8" text-anchor="middle" font-size="18.2" fill="#4D4D4D">−2</text>
<line x1="613.0" x2="613.0" y1="750.65" y2="754.9" stroke="#111" stroke-width="1.4"/>
<text x="613.0" y="771.8" text-anchor="middle" font-size="18.2" fill="#4D4D4D">−1</text>
<line x1="679.3" x2="679.3" y1="750.65" y2="754.9" stroke="#111" stroke-width="1.4"/>
<text x="679.3" y="771.8" text-anchor="middle" font-size="18.2" fill="#4D4D4D">0</text>
<line x1="745.6" x2="745.6" y1="750.65" y2="754.9" stroke="#111" stroke-width="1.4"/>
<text x="745.6" y="771.8" text-anchor="middle" font-size="18.2" fill="#4D4D4D">1</text>
<rect x="502.4" y="796.5" width="176.89999999999998" height="62.35000000000002" fill="#C9C7C8"/>
<rect x="679.3" y="796.5" width="77.90000000000009" height="62.35000000000002" fill="#F5F593"/>
<path d="M569.90,856.4 L569.90,855.5 L576.53,855.5 L576.53,855.5 L583.16,855.5 L583.16,853.9 L589.79,853.9 L589.79,851.9 L596.42,851.9 L596.42,845.9 L603.05,845.9 L603.05,839.5 L609.68,839.5 L609.68,830.5 L616.31,830.5 L616.31,809.9 L622.94,809.9 L622.94,797.8 L629.57,797.8 L629.57,804.2 L636.20,804.2 L636.20,818.9 L642.83,818.9 L642.83,831.8 L649.46,831.8 L649.46,845.9 L656.09,845.9 L656.09,852.9 L662.72,852.9 L662.72,854.9 L669.35,854.9 L669.35,855.8 L675.98,855.8 L675.98,855.8 L682.61,855.8 L682.61,856.4 Z" fill="#2FB47C"/>
<line x1="626.9" x2="626.9" y1="796.5" y2="858.85" stroke="#000" stroke-width="1.9"/>
<line x1="596.4" x2="596.4" y1="859.2" y2="796.5" stroke="#000" stroke-width="1.8" stroke-dasharray="6.1 6.75"/>
<line x1="652.8" x2="652.8" y1="859.2" y2="796.5" stroke="#000" stroke-width="1.8" stroke-dasharray="6.1 6.75"/>
<text x="627.3" y="794.7" text-anchor="middle" font-size="11.9" fill="#000" stroke="#000" stroke-width="0.2">−0.79</text>
<text x="504.7" y="812.9" font-size="16.65" fill="#000">40°N</text>
<line x1="502.4" x2="502.4" y1="791.9" y2="859.65" stroke="#000" stroke-width="1.6"/>
<line x1="501.59999999999997" x2="757.2" y1="858.85" y2="858.85" stroke="#000" stroke-width="1.6"/>
<line x1="498.1" x2="502.4" y1="797" y2="797" stroke="#111" stroke-width="1.4"/>
<line x1="498.1" x2="502.4" y1="811.7" y2="811.7" stroke="#111" stroke-width="1.4"/>
<line x1="498.1" x2="502.4" y1="826.6" y2="826.6" stroke="#111" stroke-width="1.4"/>
<line x1="498.1" x2="502.4" y1="841.3" y2="841.3" stroke="#111" stroke-width="1.4"/>
<line x1="498.1" x2="502.4" y1="856.2" y2="856.2" stroke="#111" stroke-width="1.4"/>
<line x1="546.7" x2="546.7" y1="858.85" y2="863.1" stroke="#111" stroke-width="1.4"/>
<text x="546.7" y="880.0" text-anchor="middle" font-size="18.2" fill="#4D4D4D">−2</text>
<line x1="613.0" x2="613.0" y1="858.85" y2="863.1" stroke="#111" stroke-width="1.4"/>
<text x="613.0" y="880.0" text-anchor="middle" font-size="18.2" fill="#4D4D4D">−1</text>
<line x1="679.3" x2="679.3" y1="858.85" y2="863.1" stroke="#111" stroke-width="1.4"/>
<text x="679.3" y="880.0" text-anchor="middle" font-size="18.2" fill="#4D4D4D">0</text>
<line x1="745.6" x2="745.6" y1="858.85" y2="863.1" stroke="#111" stroke-width="1.4"/>
<text x="745.6" y="880.0" text-anchor="middle" font-size="18.2" fill="#4D4D4D">1</text>
<rect x="502.4" y="904.9" width="176.89999999999998" height="62.10000000000002" fill="#C9C7C8"/>
<rect x="679.3" y="904.9" width="77.90000000000009" height="62.10000000000002" fill="#F5F593"/>
<path d="M563.27,964.4 L563.27,964.1 L569.90,964.1 L569.90,963.8 L576.53,963.8 L576.53,963.5 L583.16,963.5 L583.16,957.9 L589.79,957.9 L589.79,954.8 L596.42,954.8 L596.42,949.6 L603.05,949.6 L603.05,940.6 L609.68,940.6 L609.68,921.3 L616.31,921.3 L616.31,914.1 L622.94,914.1 L622.94,912.3 L629.57,912.3 L629.57,905.9 L636.20,905.9 L636.20,911.0 L642.83,911.0 L642.83,918.0 L649.46,918.0 L649.46,932.1 L656.09,932.1 L656.09,943.2 L662.72,943.2 L662.72,950.9 L669.35,950.9 L669.36,959.9 L675.99,959.9 L675.99,962.5 L682.62,962.5 L682.62,964.2 L689.25,964.2 L689.25,964.2 L695.88,964.2 L695.88,964.4 Z" fill="#9FDA3A"/>
<line x1="630.9" x2="630.9" y1="904.9" y2="967.0" stroke="#000" stroke-width="1.9"/>
<line x1="592.4" x2="592.4" y1="967.4" y2="904.9" stroke="#000" stroke-width="1.8" stroke-dasharray="6.1 6.75"/>
<line x1="667.4" x2="667.4" y1="967.4" y2="904.9" stroke="#000" stroke-width="1.8" stroke-dasharray="6.1 6.75"/>
<text x="631.3" y="903.1" text-anchor="middle" font-size="11.9" fill="#000" stroke="#000" stroke-width="0.2">−0.73</text>
<text x="504.7" y="921.3" font-size="16.65" fill="#000">45°N</text>
<line x1="502.4" x2="502.4" y1="899.96" y2="967.8" stroke="#000" stroke-width="1.6"/>
<line x1="501.59999999999997" x2="757.2" y1="967.0" y2="967.0" stroke="#000" stroke-width="1.6"/>
<line x1="498.1" x2="502.4" y1="920.9" y2="920.9" stroke="#111" stroke-width="1.4"/>
<line x1="498.1" x2="502.4" y1="942.5" y2="942.5" stroke="#111" stroke-width="1.4"/>
<line x1="498.1" x2="502.4" y1="964.3" y2="964.3" stroke="#111" stroke-width="1.4"/>
<line x1="546.7" x2="546.7" y1="967.0" y2="971.3" stroke="#111" stroke-width="1.4"/>
<text x="546.7" y="988.1" text-anchor="middle" font-size="18.2" fill="#4D4D4D">−2</text>
<line x1="613.0" x2="613.0" y1="967.0" y2="971.3" stroke="#111" stroke-width="1.4"/>
<text x="613.0" y="988.1" text-anchor="middle" font-size="18.2" fill="#4D4D4D">−1</text>
<line x1="679.3" x2="679.3" y1="967.0" y2="971.3" stroke="#111" stroke-width="1.4"/>
<text x="679.3" y="988.1" text-anchor="middle" font-size="18.2" fill="#4D4D4D">0</text>
<line x1="745.6" x2="745.6" y1="967.0" y2="971.3" stroke="#111" stroke-width="1.4"/>
<text x="745.6" y="988.1" text-anchor="middle" font-size="18.2" fill="#4D4D4D">1</text>
<text x="488.6" y="493.7" font-size="22.45" fill="#000">Δ phenology (days decade</text>
<text x="753.4" y="486.3" font-size="11.6" fill="#000">-1</text>
<text x="764.9" y="493.7" font-size="22.45" fill="#000">)</text>
<text x="488.6" y="1009.5" font-size="22.45" fill="#000">Δ phenology (days decade</text>
<text x="753.4" y="1002.1" font-size="11.6" fill="#000">-1</text>
<text x="764.9" y="1009.5" font-size="22.45" fill="#000">)</text>
<text x="496.9" y="19.3" font-size="22.4" font-weight="bold" fill="#000">b</text>
<text x="541" y="23.6" font-size="18.2" fill="#000">earlier</text>
<text x="679.3" y="23.6" font-size="18.2" fill="#000">later</text>
<line x1="511.5" x2="631" y1="31.9" y2="31.9" stroke="#000" stroke-width="1.5"/>
<line x1="635" x2="747" y1="31.9" y2="31.9" stroke="#000" stroke-width="1.5"/>
<path d="M503.5,31.9 L516.0,25.0 L513.0,31.9 L516.0,38.8 Z" fill="#000"/>
<path d="M755,31.9 L742.5,25.0 L745.5,31.9 L742.5,38.8 Z" fill="#000"/>
<text x="496.9" y="536" font-size="22.4" font-weight="bold" fill="#000">d</text>
<text x="539.5" y="540.5" font-size="18.2" fill="#000">earlier</text>
<text x="678" y="540.5" font-size="18.2" fill="#000">later</text>
<line x1="508.6" x2="629.6" y1="549" y2="549" stroke="#000" stroke-width="1.5"/>
<line x1="635.1" x2="747" y1="549" y2="549" stroke="#000" stroke-width="1.5"/>
<path d="M500.6,549 L513.1,542.1 L510.1,549 L513.1,555.9 Z" fill="#000"/>
<path d="M755,549 L742.5,542.1 L745.5,549 L742.5,555.9 Z" fill="#000"/>
</svg></body></html>
